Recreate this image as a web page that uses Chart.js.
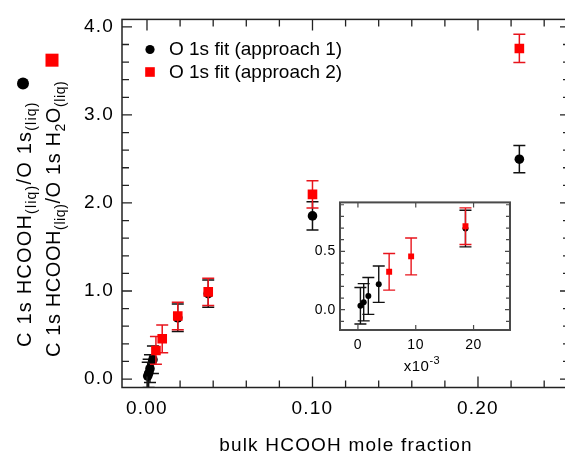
<!DOCTYPE html>
<html><head><meta charset="utf-8">
<script src="https://cdn.jsdelivr.net/npm/chart.js@4"></script>
<style>
html,body{margin:0;padding:0;background:#fff;overflow:hidden;width:565px;height:457px}
#wrap{position:relative;width:565px;height:457px;overflow:hidden;background:#fff}
#main{position:absolute;left:0;top:0}
#inset{position:absolute;left:290px;top:190px;pointer-events:none}
</style></head><body>
<div id="wrap"><canvas id="main" width="590" height="457"></canvas><canvas id="inset" width="240" height="190"></canvas></div>
<script>
// ---- data ----
const seriesNames = ['O 1s fit (approach 1)', 'O 1s fit (approach 2)'];
const fraction1 = [0.00043, 0.0010, 0.0018, 0.0036, 0.0186, 0.037, 0.100, 0.225];
const ratio1    = [0.034, 0.064, 0.118, 0.219, 0.696, 0.97, 1.853, 2.497];
const error1    = [0.157, 0.160, 0.158, 0.156, 0.157, 0.155, 0.160, 0.155];
const fraction2 = [0.0054, 0.0092, 0.0186, 0.037, 0.100, 0.225];
const ratio2    = [0.325, 0.457, 0.716, 0.99, 2.098, 3.755];
const error2    = [0.157, 0.158, 0.157, 0.155, 0.155, 0.160];
const xTickValues = [0, 0.1, 0.2];
const xTickLabels = ['0.00', '0.10', '0.20'];
const yTickValues = [0, 1, 2, 3, 4];
const yTickLabels = ['0.0', '1.0', '2.0', '3.0', '4.0'];
const insetXTickValues = [0, 10, 20];
const insetXTickLabels = ['0', '10', '20'];
const insetYTickValues = [0, 0.5];
const insetYTickLabels = ['0.0', '0.5'];
const insetScale = 1000; // inset x axis is in units of 10^-3
const xTitle = 'bulk HCOOH mole fraction';
const yTitle1 = [['C 1s HCOOH', 0], ['(liq)', 1], ['/O 1s', 0], ['(liq)', 1]];
const yTitle2 = [['C 1s HCOOH', 0], ['(liq)', 1], ['/O 1s H', 0], ['2', 1], ['O', 0], ['(liq)', 1]];
const insetUnit = [['x10', 0], ['-3', 1]];

const FONT = '"Liberation Sans", Arial, Helvetica, sans-serif';
Chart.defaults.font.family = FONT;
Chart.defaults.color = '#000';
Chart.defaults.animation = false;

const BLACK = '#000000', RED = '#ff0000', RED_ERR = '#e8141c';

const spacing = {
  id: 'spacing',
  beforeUpdate(chart, a, o) { chart.ctx.letterSpacing = o.value; },
  beforeDraw(chart, a, o) { chart.ctx.letterSpacing = o.value; }
};

const errorBars = {
  id: 'errorBars',
  beforeDatasetDraw(chart, args, o) {
    const {ctx, chartArea: a, scales: {x, y}} = chart;
    const ds = chart.data.datasets[args.index];
    ctx.save();
    ctx.beginPath(); ctx.rect(a.left, a.top, a.right - a.left, a.bottom - a.top); ctx.clip();
    ctx.strokeStyle = ds.errorColor; ctx.lineWidth = o.width;
    ds.data.forEach((p, i) => {
      const e = ds.errors[i];
      const px = x.getPixelForValue(p.x);
      const y1 = y.getPixelForValue(p.y - e), y2 = y.getPixelForValue(p.y + e);
      ctx.beginPath();
      ctx.moveTo(px, y1); ctx.lineTo(px, y2);
      ctx.moveTo(px - o.cap, y1); ctx.lineTo(px + o.cap, y1);
      ctx.moveTo(px - o.cap, y2); ctx.lineTo(px + o.cap, y2);
      ctx.stroke();
    });
    ctx.restore();
  }
};

const frame = {
  id: 'frame',
  afterDatasetsDraw(chart, args, o) {
    const {ctx, chartArea: a, scales: {x, y}} = chart;
    ctx.save();
    ctx.strokeStyle = o.color; ctx.lineWidth = o.tickWidth;
    ctx.beginPath();
    for (let k = Math.ceil(x.min / o.xStep - 1e-9); k * o.xStep <= x.max + 1e-12; k++) {
      const px = x.getPixelForValue(k * o.xStep);
      const L = (k % o.xMajorEvery === 0) ? o.xMajor : o.xMinor;
      if (o.xBottom) { ctx.moveTo(px, a.bottom); ctx.lineTo(px, a.bottom - L); }
      ctx.moveTo(px, a.top); ctx.lineTo(px, a.top + L);
    }
    for (let k = Math.ceil(y.min / o.yStep - 1e-9); k * o.yStep <= y.max + 1e-12; k++) {
      const py = y.getPixelForValue(k * o.yStep);
      const L = (k % o.yMajorEvery === 0) ? o.yMajor : o.yMinor;
      ctx.moveTo(a.left, py); ctx.lineTo(a.left + L, py);
      ctx.moveTo(a.right, py); ctx.lineTo(a.right - L, py);
    }
    ctx.stroke();
    ctx.lineWidth = o.lineWidth;
    ctx.strokeRect(a.left, a.top, a.right - a.left, a.bottom - a.top);
    ctx.restore();
  }
};

function drawRich(ctx, segs, x, y, big, small, shift) {
  let cx = x;
  for (const [t, sub] of segs) {
    ctx.font = (sub ? small : big) + 'px ' + FONT;
    ctx.fillText(t, cx, y + (sub ? shift : 0));
    cx += ctx.measureText(t).width;
  }
  return cx - x;
}
function richWidth(ctx, segs, big, small) {
  let w = 0;
  for (const [t, sub] of segs) { ctx.font = (sub ? small : big) + 'px ' + FONT; w += ctx.measureText(t).width; }
  return w;
}

const annotations = {
  id: 'annotations',
  afterDraw(chart, args, o) {
    const ctx = chart.ctx;
    const ds = chart.data.datasets;
    // legend
    ctx.save();
    ctx.letterSpacing = '0px';
    ctx.textBaseline = 'middle'; ctx.textAlign = 'left';
    o.legendRows.forEach((r, i) => {
      const d = ds[i];
      ctx.fillStyle = d.backgroundColor;
      Chart.helpers.drawPoint(ctx, {pointStyle: d.pointStyle, radius: r.radius, rotation: 0, borderWidth: 0}, o.legendX, r.y);
      ctx.fillStyle = '#000';
      ctx.font = o.legendFont + 'px ' + FONT;
      ctx.fillText(d.label, o.legendTextX, r.y + 0.5);
    });
    ctx.restore();
    // rotated y axis titles with markers
    o.yTitles.forEach((t, i) => {
      ctx.save();
      ctx.letterSpacing = t.spacing;
      ctx.fillStyle = '#000'; ctx.textBaseline = 'alphabetic'; ctx.textAlign = 'left';
      ctx.translate(t.baseX, t.startY);
      ctx.rotate(-Math.PI / 2);
      const w = drawRich(ctx, t.segs, 0, 0, o.titleFont, o.subFont, o.subShift);
      ctx.restore();
      ctx.save();
      const d = ds[i];
      ctx.fillStyle = d.backgroundColor;
      Chart.helpers.drawPoint(ctx, {pointStyle: d.pointStyle, radius: t.radius, rotation: 0, borderWidth: 0},
        t.baseX - t.capMid, t.startY - w - t.gap);
      ctx.restore();
    });
  }
};

function makeDatasets(scale, big) {
  return [
    {
      label: seriesNames[0],
      data: fraction1.map((v, i) => ({x: v * scale, y: ratio1[i]})),
      errors: error1, errorColor: '#111111',
      backgroundColor: BLACK, borderColor: BLACK, borderWidth: 0,
      pointStyle: 'circle', pointRadius: big ? 4.8 : 3.0, pointHoverRadius: big ? 4.8 : 3.0,
      order: 2
    },
    {
      label: seriesNames[1],
      data: fraction2.map((v, i) => ({x: v * scale, y: ratio2[i]})),
      errors: error2, errorColor: RED_ERR,
      backgroundColor: RED, borderColor: RED, borderWidth: 0,
      pointStyle: 'rect', pointRadius: big ? 6.8 : 4.2, pointHoverRadius: big ? 6.8 : 4.2,
      order: 1
    }
  ];
}

new Chart(document.getElementById('main'), {
  type: 'scatter',
  data: {datasets: makeDatasets(1, true)},
  options: {
    responsive: false, animation: false, events: [],
    layout: {padding: {top: 17.5, right: 20, left: 0, bottom: 0}},
    scales: {
      x: {
        type: 'linear', min: -0.0151, max: 0.2556,
        afterBuildTicks: s => { s.ticks = xTickValues.map(v => ({value: v})); },
        afterFit: s => { s.height = 69.5; },
        grid: {display: false, drawTicks: false}, border: {display: false},
        ticks: {callback: (v, i) => xTickLabels[i], font: {size: 19}, padding: 10, maxRotation: 0, autoSkip: false},
        title: {display: true, text: xTitle, font: {size: 19}, padding: {top: 0, bottom: 0}}
      },
      y: {
        type: 'linear', min: -0.096, max: 4.085,
        afterBuildTicks: s => { s.ticks = yTickValues.map(v => ({value: v})); },
        afterFit: s => { s.width = 122; },
        grid: {display: false, drawTicks: false}, border: {display: false},
        ticks: {callback: (v, i) => yTickLabels[i], font: {size: 19}, padding: 8, autoSkip: false}
      }
    },
    plugins: {
      legend: {display: false}, tooltip: {enabled: false},
      spacing: {value: '1.2px'},
      errorBars: {width: 1.5, cap: 6},
      frame: {color: '#222', lineWidth: 1.5, tickWidth: 1.3,
        xStep: 0.02, xMajorEvery: 5, xMajor: 11, xMinor: 7, xBottom: true,
        yStep: 0.2, yMajorEvery: 5, yMajor: 10, yMinor: 7},
      annotations: {
        legendX: 150, legendTextX: 169, legendFont: 19,
        legendRows: [{y: 49.5, radius: 4.6}, {y: 72, radius: 6.8}],
        titleFont: 20, subFont: 14, subShift: 5,
        yTitles: [
          {segs: yTitle1, baseX: 31, startY: 347, capMid: 8, gap: 18, radius: 6, spacing: '1.2px'},
          {segs: yTitle2, baseX: 60, startY: 357, capMid: 8, gap: 20.5, radius: 9.2, spacing: '0.6px'}
        ]
      }
    }
  },
  plugins: [spacing, errorBars, frame, annotations]
});

const insetUnitPlugin = {
  id: 'insetUnit',
  afterDraw(chart, args, o) {
    const ctx = chart.ctx;
    ctx.save();
    ctx.letterSpacing = '0.5px';
    ctx.fillStyle = '#000'; ctx.textBaseline = 'alphabetic'; ctx.textAlign = 'left';
    const w = richWidth(ctx, insetUnit, o.big, o.small);
    drawRich(ctx, insetUnit, o.cx - w / 2, o.baseY, o.big, o.small, o.shift);
    ctx.restore();
  }
};

new Chart(document.getElementById('inset'), {
  type: 'scatter',
  data: {datasets: makeDatasets(insetScale, false)},
  options: {
    responsive: false, animation: false, events: [],
    layout: {padding: {top: 10, right: 20, left: 0, bottom: 0}},
    scales: {
      x: {
        type: 'linear', min: -3.1, max: 26.3,
        afterBuildTicks: s => { s.ticks = insetXTickValues.map(v => ({value: v})); },
        afterFit: s => { s.height = 50; },
        grid: {display: false, drawTicks: false}, border: {display: false},
        ticks: {callback: (v, i) => insetXTickLabels[i], font: {size: 14}, padding: 7, maxRotation: 0, autoSkip: false}
      },
      y: {
        type: 'linear', min: -0.174, max: 0.92,
        afterBuildTicks: s => { s.ticks = insetYTickValues.map(v => ({value: v})); },
        afterFit: s => { s.width = 50; },
        grid: {display: false, drawTicks: false}, border: {display: false},
        ticks: {callback: (v, i) => insetYTickLabels[i], font: {size: 14}, padding: 4, autoSkip: false}
      }
    },
    plugins: {
      legend: {display: false}, tooltip: {enabled: false},
      spacing: {value: '0.6px'},
      errorBars: {width: 1.4, cap: 6},
      frame: {color: '#4a4a4a', lineWidth: 2, tickWidth: 1.2,
        xStep: 10, xMajorEvery: 1, xMajor: 5, xMinor: 5, xBottom: true,
        yStep: 0.1, yMajorEvery: 5, yMajor: 5, yMinor: 4},
      insetUnit: {cx: 132, baseY: 181, big: 15, small: 11, shift: -7}
    }
  },
  plugins: [spacing, errorBars, frame, insetUnitPlugin]
});
</script>
</body></html>
